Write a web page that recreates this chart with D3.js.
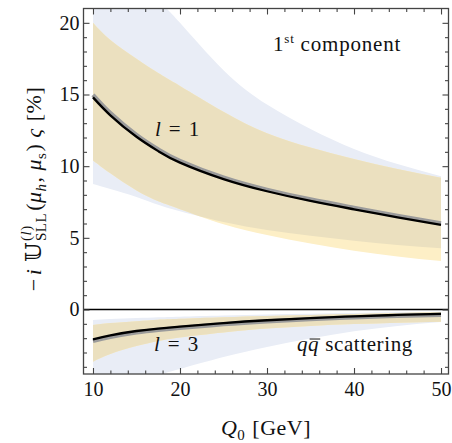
<!DOCTYPE html>
<html>
<head>
<meta charset="utf-8">
<script src="https://cdn.jsdelivr.net/npm/d3@7/dist/d3.min.js"></script>
<style>
  body { margin: 0; background: #fff; }
  svg { display: block; }
  .axis text { font-family: 'Liberation Serif', 'DejaVu Serif', serif; font-size: 20px; fill: #111; }
  .axis line { stroke: #444; stroke-width: 1.1; }
  .axis path { display: none; }
  .lbl text { font-family: 'Liberation Serif', 'DejaVu Serif', serif; fill: #111; }
</style>
</head>
<body>
<svg id="chart" width="452" height="443"></svg>
<script>
// sample points along Q0 [GeV]
const qGrid = [10, 12, 15, 17.5, 20, 25, 30, 35, 40, 45, 50]

// l = 1 (values in %)
const l1Central = [14.8, 13.55, 12.05, 11.05, 10.25, 9.1, 8.25, 7.57, 6.99, 6.43, 5.9]
const l1Gray = [14.97, 13.7, 12.18, 11.17, 10.37, 9.21, 8.36, 7.68, 7.1, 6.54, 6.02]
const l1BlueHi = [27.5, 25.6, 23.3, 21.6, 20.0, 16.7, 14.3, 12.6, 11.2, 10.15, 9.3]
const l1BlueLo = [8.75, 8.4, 7.85, 7.3, 6.85, 6.1, 5.55, 5.15, 4.8, 4.5, 4.27]
const l1YellowHi = [20.0, 18.8, 17.5, 16.5, 15.6, 13.8, 12.3, 11.3, 10.5, 9.8, 9.2]
const l1YellowLo = [10.4, 9.5, 8.3, 7.55, 7.0, 5.95, 5.2, 4.6, 4.1, 3.7, 3.38]

// l = 3
const l3Central = [-2.08, -1.8, -1.5, -1.33, -1.2, -0.95, -0.75, -0.6, -0.48, -0.38, -0.3]
const l3Gray = [-2.2, -1.92, -1.6, -1.42, -1.28, -1.03, -0.83, -0.67, -0.55, -0.45, -0.37]
const l3BlueHi = [-0.73, -0.67, -0.6, -0.54, -0.5, -0.42, -0.35, -0.3, -0.25, -0.2, -0.15]
const l3BlueLo = [-7.5, -6.6, -5.4, -4.6, -4.15, -3.32, -2.62, -2.03, -1.52, -1.15, -0.88]
const l3YellowHi = [-1.08, -0.95, -0.82, -0.72, -0.65, -0.54, -0.45, -0.38, -0.31, -0.25, -0.2]
const l3YellowLo = [-3.64, -3.1, -2.55, -2.2, -1.95, -1.6, -1.33, -1.15, -1.02, -0.92, -0.85]

// ticks
const xMajorTicks = [10, 20, 30, 40, 50]
const xMinorTicks = [12, 14, 16, 18, 22, 24, 26, 28, 32, 34, 36, 38, 42, 44, 46, 48]
const yMajorTicks = [0, 5, 10, 15, 20]
const yMinorTicks = [-4, -3, -2, -1, 1, 2, 3, 4, 6, 7, 8, 9, 11, 12, 13, 14, 16, 17, 18, 19]

const colors = { blue: '#e9edf6', yellow: '#fdefc6', tan: '#ebe0bf', gray: '#9b9b9b', line: '#000' }

const box = { left: 83.5, right: 448.5, top: 8.5, bottom: 374 }

const svg = d3.select('#chart')
svg.append('rect').attr('width', 452).attr('height', 443).attr('fill', '#fff')

const x = d3.scaleLinear().domain([8.91, 50.86]).range([box.left, box.right])
const y = d3.scaleLinear().domain([-4.5, 21]).range([box.bottom, box.top])

const defs = svg.append('defs')
defs.append('clipPath').attr('id', 'plotClip')
  .append('rect')
  .attr('x', box.left).attr('y', box.top)
  .attr('width', box.right - box.left).attr('height', box.bottom - box.top)

function bandArea(lo, hi) {
  return d3.area()
    .x((d, i) => x(qGrid[i]))
    .y0((d, i) => y(lo[i]))
    .y1((d, i) => y(hi[i]))
    .curve(d3.curveNatural)(qGrid)
}
function curveLine(vals) {
  return d3.line()
    .x((d, i) => x(qGrid[i]))
    .y((d, i) => y(vals[i]))
    .curve(d3.curveNatural)(qGrid)
}

const plot = svg.append('g').attr('clip-path', 'url(#plotClip)')

const bands = [
  { id: 'l1', blue: [l1BlueLo, l1BlueHi], yellow: [l1YellowLo, l1YellowHi], central: l1Central, gray: l1Gray },
  { id: 'l3', blue: [l3BlueLo, l3BlueHi], yellow: [l3YellowLo, l3YellowHi], central: l3Central, gray: l3Gray }
]

bands.forEach(function (b) {
  const bluePath = bandArea(b.blue[0], b.blue[1])
  const yellowPath = bandArea(b.yellow[0], b.yellow[1])
  defs.append('clipPath').attr('id', 'blue-' + b.id).append('path').attr('d', bluePath)

  plot.append('path').attr('d', bluePath).attr('fill', colors.blue)
  plot.append('path').attr('d', yellowPath).attr('fill', colors.yellow)
  // overlap of both bands
  plot.append('g').attr('clip-path', 'url(#blue-' + b.id + ')')
    .append('path').attr('d', yellowPath).attr('fill', colors.tan)

  plot.append('path').attr('d', curveLine(b.gray))
    .attr('fill', 'none').attr('stroke', colors.gray).attr('stroke-width', 4.2)
  plot.append('path').attr('d', curveLine(b.central))
    .attr('fill', 'none').attr('stroke', colors.line).attr('stroke-width', 2.3)
})

// zero line
svg.append('line')
  .attr('x1', box.left).attr('x2', box.right)
  .attr('y1', y(0)).attr('y2', y(0))
  .attr('stroke', '#000').attr('stroke-width', 1.3)

// axes, ticks pointing inward on all sides
function addAxis(axis, tx, ty) {
  svg.append('g').attr('class', 'axis').attr('transform', `translate(${tx},${ty})`).call(axis)
}
addAxis(d3.axisBottom(x).tickValues(xMajorTicks).tickSize(-6).tickPadding(8).tickFormat(d3.format('d')), 0, box.bottom)
addAxis(d3.axisBottom(x).tickValues(xMinorTicks).tickSize(-3.5).tickFormat(''), 0, box.bottom)
addAxis(d3.axisTop(x).tickValues(xMajorTicks).tickSize(-6).tickFormat(''), 0, box.top)
addAxis(d3.axisTop(x).tickValues(xMinorTicks).tickSize(-3.5).tickFormat(''), 0, box.top)
addAxis(d3.axisLeft(y).tickValues(yMajorTicks).tickSize(-6).tickPadding(4).tickFormat(d3.format('d')), box.left, 0)
addAxis(d3.axisLeft(y).tickValues(yMinorTicks).tickSize(-3.5).tickFormat(''), box.left, 0)
addAxis(d3.axisRight(y).tickValues(yMajorTicks).tickSize(-6).tickFormat(''), box.right, 0)
addAxis(d3.axisRight(y).tickValues(yMinorTicks).tickSize(-3.5).tickFormat(''), box.right, 0)

svg.append('rect')
  .attr('x', box.left).attr('y', box.top)
  .attr('width', box.right - box.left).attr('height', box.bottom - box.top)
  .attr('fill', 'none').attr('stroke', '#444').attr('stroke-width', 1.3)

// text made of pieces (sub/superscripts, italics)
function richText(parent, px, py, pieces, size, anchor, ls) {
  const g = parent.append('g').attr('class', 'lbl')
  let cx = 0
  let mark = 0
  let supEnd = 0
  pieces.forEach(function (p) {
    if (p.reset) { supEnd = cx; cx = mark }
    if (p.merge) cx = Math.max(cx, supEnd)
    cx += p.gap || 0
    if (p.mark) mark = cx
    const fs = p.size || size
    const t = g.append('text')
      .attr('x', cx).attr('y', p.dy || 0)
      .attr('font-size', fs)
      .attr('font-style', p.it ? 'italic' : null)
      .attr('letter-spacing', ls || null)
      .text(p.t)
    const w = t.node().getComputedTextLength()
    if (p.bar) {
      g.append('line')
        .attr('x1', cx + 1.5).attr('x2', cx + w + 1)
        .attr('y1', (p.dy || 0) - 0.57 * fs).attr('y2', (p.dy || 0) - 0.57 * fs)
        .attr('stroke', '#111').attr('stroke-width', 1)
    }
    cx += w
  })
  const shift = anchor === 'middle' ? -cx / 2 : 0
  g.attr('transform', `translate(${px + shift},${py})`)
  return g
}

const yLab = svg.append('g').attr('transform', 'translate(41,189) rotate(-90)')
richText(yLab, 0, 0, [
  { t: '−' },
  { t: 'i', it: true, gap: 3 },
  { t: '𝕌', gap: 7 },
  { t: '(', size: 15, dy: -10, mark: true, gap: 1 },
  { t: 'l', it: true, size: 15, dy: -10 },
  { t: ')', size: 15, dy: -10 },
  { t: 'SLL', size: 15, dy: 5, reset: true },
  { t: '(', merge: true, gap: 2 },
  { t: 'μ', it: true },
  { t: 'h', it: true, size: 15, dy: 5 },
  { t: ',', gap: 1 },
  { t: 'μ', it: true, gap: 6 },
  { t: 's', size: 15, dy: 5 },
  { t: ')', gap: 1 },
  { t: 'ς', it: true, gap: 6 },
  { t: '[%]', gap: 7 }
], 22, 'middle', 0.5)

richText(svg, 266, 435, [
  { t: 'Q', it: true },
  { t: '0', size: 15, dy: 5 },
  { t: '[GeV]', gap: 7 }
], 22, 'middle', 0.5)

richText(svg, 273, 51, [
  { t: '1' },
  { t: 'st', size: 13, dy: -8 },
  { t: 'component', gap: 6 }
], 21, null, 0.8)

richText(svg, 155, 136, [
  { t: 'l', it: true },
  { t: '=', gap: 8 },
  { t: '1', gap: 8 }
], 21)

richText(svg, 154, 351, [
  { t: 'l', it: true },
  { t: '=', gap: 8 },
  { t: '3', gap: 8 }
], 21)

richText(svg, 297, 351, [
  { t: 'q', it: true },
  { t: 'q', it: true, bar: true },
  { t: 'scattering', gap: 6 }
], 21, null, 0.6)
</script>
</body>
</html>
